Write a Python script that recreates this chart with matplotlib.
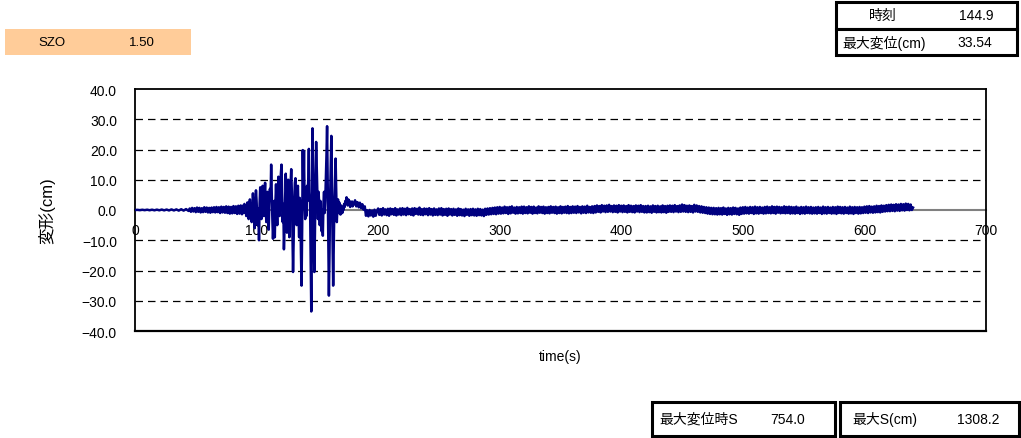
import numpy as np
import matplotlib
matplotlib.use("Agg")
import matplotlib.pyplot as plt
from matplotlib.patches import Rectangle

plt.rcParams['font.family'] = ['Liberation Sans', 'Noto Sans CJK JP']

# ---------------- data ----------------
# nearly still start, sampled every 2 s (0 .. 44 s)
v_start = [0.0, 0.05, -0.05, 0.08, -0.05, 0.1, -0.08, 0.1, -0.1, 0.12,
           -0.1, 0.15, -0.12, 0.15, -0.15, 0.2, -0.15, 0.2, -0.2, 0.25,
           -0.2, 0.3, -0.3]
t_start = np.arange(0, 45, 2)

# small motion before the main shaking, sampled every 1 s (45 .. 88 s)
v_pre = [0.5, -0.6, 0.7, -0.5, 0.6, -0.7, 0.8, -0.6, 0.7, -0.8,
         0.6, -0.7, 0.9, -0.6, 0.8, -0.8, 0.7, -0.9, 0.8, -0.7,
         0.9, -0.8, 1.0, -0.7, 0.9, -1.0, 1.1, -0.8, 1.0, -0.9,
         1.2, -1.0, 1.1, -1.2, 1.0, -1.1, 1.3, -1.0, 1.2, -1.3,
         1.4, -1.2, 1.5, -1.4]
t_pre = np.arange(45, 89, 1)

# main shaking, sampled every 0.5 s (89 .. 179.5 s)
v_main = [1.5, -1.0, 2.0, -0.8, 1.2, -2.0, 0.5, 2.5, -1.5, -3.0,
          1.0, 3.5, 0.0, -2.5, -4.0, 1.0, 5.5, 2.0, -3.5, -6.0,
          1.5, 6.5, 3.0, -2.0, -5.0, 0.5, -10.0, 2.0, 7.5, 4.0,
          -3.0, 1.5, 8.0, 3.0, -2.0, 5.0, 9.0, 2.5, -4.0, 1.0,
          6.0, 0.5, -6.5, 2.0, 7.0, 3.5, 15.0, 5.0, -3.0, -9.5,
          -4.0, 3.0, -9.0, 2.0, 8.5, 1.0, -5.0, 4.5, 11.0, 3.0,
          -2.0, 6.0, 12.0, 15.0, 6.0, -4.0, 2.0, -13.0, -6.0, 4.0,
          12.0, 5.0, -7.5, 3.0, 10.0, 1.0, -9.0, 4.0, 9.0, 13.5,
          6.0, -8.0, -20.5, -10.0, 3.0, 9.0, 10.5, 2.0, -5.0, 6.0,
          8.0, -2.0, -9.0, 4.0, 1.0, -14.0, -25.0, -6.0, 19.8, 4.0,
          19.5, 2.0, -3.0, 5.0, -2.0, 8.0, 3.0, 10.0, 20.2, 6.0,
          2.0, -15.0, -33.54, -8.0, 27.0, 12.0, -6.0, -20.5, -8.0, 10.0,
          22.5, 14.0, 4.0, -3.0, 6.0, 2.0, -5.0, 3.0, -2.0, -7.0,
          0.0, -8.5, 2.0, 6.0, -1.0, 3.0, 10.0, 18.0, 27.7, 8.0,
          -12.0, -28.3, -14.0, 4.0, 15.0, 24.5, 10.0, -10.0, -25.0, -12.0,
          2.0, 8.0, 17.0, 6.0, -4.0, 1.0, 3.5, -1.0, 2.5, 0.0,
          -1.5, 1.5, 0.5, -1.0, 1.0, 0.0, 2.0, 1.0, 3.0, 2.0,
          4.2, 3.0, 1.5, 3.5, 2.0, 3.0, 1.0, 2.5, 1.5, 2.8,
          1.2, 2.0]
t_main = np.arange(89, 180, 0.5)

# after the main shaking, sampled every 1 s (180 .. 640 s)
v_post = [
    1.8, 3.2, 1.2, 2.6, 0.9, 2.4, 0.6, 1.9, 0.1, 1.2, -1.9, -0.1, -2.1, 0.0, -1.8, -0.2, -2.2, 0.1, -1.9, -0.3,
    0.5, -1.6, 0.3, -1.8, 0.6, -1.5, 0.2, -1.7, 0.4, -1.9, 0.5, -1.4, 0.3, -1.6, 0.6, -1.8, 0.2, -1.5, 0.5, -1.7,
    0.6, -1.5, 0.4, -1.7, 0.7, -1.4, 0.3, -1.6, 0.5, -1.8, 0.6, -1.3, 0.4, -1.5, 0.8, -1.6, 0.3, -1.7, 0.5, -1.4,
    0.4, -1.7, 0.6, -1.5, 0.3, -1.8, 0.5, -1.6, 0.2, -1.7, 0.5, -1.5, 0.6, -1.8, 0.3, -1.6, 0.4, -1.9, 0.5, -1.5,
    0.3, -1.8, 0.4, -1.6, 0.2, -1.9, 0.5, -1.7, 0.3, -1.8, 0.1, -2.0, 0.4, -1.6, 0.2, -1.9, 0.3, -1.7, 0.4, -1.8,
    0.2, -1.9, 0.4, -1.7, 0.3, -1.8, 0.1, -2.0, 0.4, -1.6, 0.5, -1.5, 0.6, -1.4, 0.7, -1.3, 0.8, -1.4, 0.9, -1.2,
    1.0, -1.2, 0.8, -1.1, 1.1, -1.0, 0.9, -1.3, 1.0, -1.1, 1.2, -0.9, 0.8, -1.2, 1.0, -1.1, 0.9, -1.0, 1.1, -1.2,
    1.1, -1.0, 0.9, -1.1, 1.2, -0.9, 1.0, -1.2, 1.1, -1.0, 0.8, -1.1, 1.2, -0.9, 1.0, -1.0, 1.1, -1.2, 0.9, -1.0,
    1.0, -1.1, 1.2, -0.9, 1.0, -1.0, 1.1, -1.2, 0.9, -1.0, 1.2, -1.1, 1.0, -0.9, 1.1, -1.0, 1.3, -1.1, 1.0, -1.0,
    1.2, -0.9, 1.1, -1.0, 1.3, -0.8, 1.0, -1.1, 1.2, -0.9, 1.1, -1.0, 1.4, -0.8, 1.0, -0.9, 1.2, -1.0, 1.3, -0.8,
    1.5, -0.6, 1.3, -0.8, 1.6, -0.5, 1.4, -0.7, 1.5, -0.6, 1.7, -0.5, 1.3, -0.7, 1.5, -0.6, 1.4, -0.8, 1.6, -0.5,
    1.4, -0.7, 1.5, -0.6, 1.3, -0.8, 1.6, -0.6, 1.4, -0.7, 1.3, -0.8, 1.5, -0.5, 1.4, -0.7, 1.6, -0.6, 1.3, -0.8,
    1.3, -0.8, 1.4, -0.7, 1.2, -0.9, 1.5, -0.6, 1.3, -0.8, 1.4, -0.7, 1.2, -0.8, 1.5, -0.7, 1.3, -0.9, 1.4, -0.6,
    1.5, -0.6, 1.4, -0.7, 1.6, -0.5, 1.3, -0.7, 1.5, -0.6, 1.8, -0.5, 1.6, -0.6, 1.4, -0.7, 1.5, -0.6, 1.3, -0.8,
    1.7, -0.5, 1.5, -0.6, 1.3, -0.8, 1.2, -0.9, 1.0, -1.0, 0.9, -1.2, 0.8, -1.3, 0.7, -1.4, 0.7, -1.4, 0.6, -1.5,
    0.7, -1.4, 0.6, -1.5, 0.8, -1.3, 0.5, -1.6, 0.7, -1.4, 0.6, -1.5, 0.8, -1.3, 0.7, -1.4, 0.5, -1.6, 0.8, -1.3,
    0.9, -1.2, 1.0, -1.1, 0.8, -1.2, 1.0, -1.0, 0.9, -1.3, 1.1, -1.1, 0.9, -1.2, 1.0, -1.0, 0.8, -1.2, 1.0, -1.1,
    1.1, -1.0, 0.9, -1.1, 1.2, -1.0, 1.0, -1.2, 1.1, -0.9, 1.0, -1.1, 0.9, -1.0, 1.2, -1.1, 1.0, -1.0, 1.1, -1.2,
    1.0, -1.1, 0.9, -1.2, 1.1, -1.0, 0.8, -1.3, 1.0, -1.1, 0.9, -1.2, 1.1, -1.0, 0.9, -1.1, 1.0, -1.2, 0.8, -1.1,
    0.9, -1.2, 1.0, -1.0, 0.8, -1.3, 1.1, -1.1, 0.9, -1.2, 1.0, -1.0, 0.8, -1.2, 1.0, -1.1, 0.9, -1.3, 1.1, -1.0,
    1.0, -1.1, 0.9, -1.2, 1.0, -1.0, 0.8, -1.2, 1.1, -1.1, 0.9, -1.3, 1.0, -1.0, 0.9, -1.2, 1.0, -1.1, 0.9, -1.0,
    1.1, -0.9, 1.2, -1.0, 1.3, -0.8, 1.1, -0.9, 1.2, -0.8, 1.4, -0.7, 1.3, -0.8, 1.5, -0.6, 1.4, -0.5, 1.6, -0.4,
    1.7, -0.4, 1.8, -0.3, 1.7, -0.4, 1.9, -0.2, 1.8, -0.3, 2.0, -0.1, 1.9, -0.2, 2.1, 0.0, 2.0, -0.1, 1.8, 0.0,
    0.8]
t_post = np.arange(180, 641, 1)

x_ticks = [0, 100, 200, 300, 400, 500, 600, 700]
y_ticks = [-40, -30, -20, -10, 0, 10, 20, 30, 40]
grid_levels = [-30, -20, -10, 10, 20, 30]

station_name = "SZO"
station_value = "1.50"
peak_time = "144.9"
peak_disp = "33.54"
s_at_peak = "754.0"
s_max = "1308.2"

t = np.concatenate([t_start, t_pre, t_main, t_post])
v = np.concatenate([v_start, v_pre, v_main, v_post])

# ---------------- figure ----------------
W, H = 1021, 439
fig = plt.figure(figsize=(W / 100, H / 100), dpi=100)

ax = fig.add_axes([135 / W, 1 - 332 / H, 851 / W, 242 / H])
ax.set_xlim(0, 700)
ax.set_ylim(-40, 40)

for g in grid_levels:
    ax.axhline(g, color='black', lw=0.9, dashes=(6, 4), zorder=1)

ax.plot(t, v, color='#000080', lw=1.8, zorder=3)

for s in ['left', 'top', 'right']:
    ax.spines[s].set_color('black')
    ax.spines[s].set_linewidth(1.3)
ax.spines['bottom'].set_position(('data', 0))
ax.spines['bottom'].set_color('#808080')
ax.spines['bottom'].set_linewidth(1.5)
ax.spines['bottom'].set_zorder(2)
ax.axhline(-40, color='black', lw=1.6, clip_on=False, zorder=4)

ax.set_xticks(x_ticks)
ax.set_xticklabels([str(x) for x in x_ticks])
ax.set_yticks(y_ticks)
ax.set_yticklabels([f"{y:.1f}".replace('-', '\u2212') for y in y_ticks])
ax.tick_params(axis='x', length=0, pad=9.5, labelsize=10)
ax.tick_params(axis='y', length=0, pad=13, labelsize=10)

ax.set_xlabel("time(s)", fontsize=10)
ax.xaxis.set_label_coords(0.5, (332 - 357) / 242)
ax.xaxis.label.set_va('center')
ax.set_ylabel("変形(cm)", fontsize=12)
ax.yaxis.set_label_coords((47 - 135) / 851, 0.5)
ax.yaxis.label.set_va('center')


def box(x0, y0, x1, y1, fc='white', ec='black', lw=2.2):
    r = Rectangle((x0 / W, 1 - y1 / H), (x1 - x0) / W, (y1 - y0) / H,
                  transform=fig.transFigure, facecolor=fc, edgecolor=ec,
                  linewidth=lw)
    fig.add_artist(r)


def txt(x, y, s, ha='center', size=10):
    fig.text(x / W, 1 - y / H, s, ha=ha, va='center', fontsize=size)


# station box
box(5, 30, 191, 56, fc='#FFCC99', ec='none', lw=0)
txt(52, 43, station_name, size=9.5)
txt(142, 43, station_value, size=9.5)

# top right table
box(836, 3, 1017, 30)
box(836, 30, 1017, 56)
txt(883, 16, "時刻")
txt(976, 16, peak_time)
txt(842, 43, "最大変位(cm)", ha='left')
txt(975, 43, peak_disp)

# bottom tables
box(652, 403, 835, 437)
box(840, 403, 1019, 437)
txt(659, 420, "最大変位時S", ha='left')
txt(788, 420, s_at_peak)
txt(852, 420, "最大S(cm)", ha='left')
txt(978, 420, s_max)

fig.savefig("out.png", dpi=100)
